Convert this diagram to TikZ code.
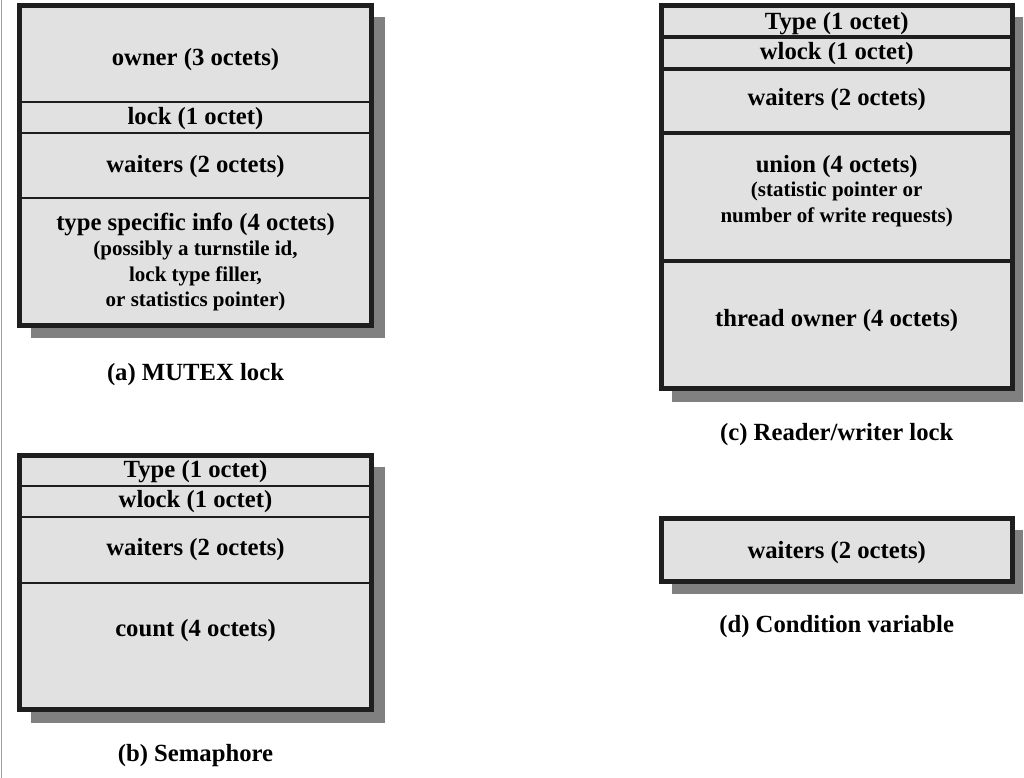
\documentclass[tikz,border=0pt]{standalone}
\usepackage{fontspec}
\setmainfont{Liberation Serif}
\definecolor{fieldgray}{RGB}{225,225,225}
\definecolor{shadowgray}{RGB}{128,128,128}
\definecolor{borderblack}{RGB}{30,30,30}
\definecolor{edgegray}{RGB}{160,160,160}
\tikzset{
  shadowbox/.style={fill=shadowgray, draw=none},
  fieldfill/.style={fill=fieldgray, draw=none},
  outerborder/.style={draw=borderblack, line width=5pt},
  thindiv/.style={draw=borderblack, line width=1.7pt},
  thickdiv/.style={draw=borderblack, line width=4pt},
  lbl/.style={anchor=base, inner sep=0pt, font=\fontsize{24.7}{28}\selectfont\bfseries},
  sublbl/.style={anchor=base, inner sep=0pt, font=\fontsize{21}{24}\selectfont\bfseries},
}
\begin{document}
\begin{tikzpicture}[x=1pt,y=-1pt]
\useasboundingbox (0,0) rectangle (1024,778);
\draw[edgegray, line width=1.5pt] (1.5,0) -- (1.5,778);

% ---------- (a) MUTEX lock ----------
\fill[shadowbox] (31,17) rectangle (385,338);
\fill[fieldfill] (19.5,5.5) rectangle (371.5,325.5);
\draw[thindiv] (19.5,102) -- (371.5,102);
\draw[thindiv] (19.5,132.7) -- (371.5,132.7);
\draw[thindiv] (19.5,197.7) -- (371.5,197.7);
\draw[outerborder] (19.5,5.5) rectangle (371.5,325.5);
\node[lbl] (aowner) at (195.5,66) {owner (3 octets)};
\node[lbl] (alock) at (195.5,124.3) {lock (1 octet)};
\node[lbl] (await) at (195.5,172) {waiters (2 octets)};
\node[lbl] (atype) at (195.5,230.7) {type specific info (4 octets)};
\node[sublbl] (apos) at (195.5,255) {(possibly a turnstile id,};
\node[sublbl] (afill) at (195.5,281.7) {lock type filler,};
\node[sublbl] (astat) at (195.5,306.7) {or statistics pointer)};
\node[lbl] (acap) at (195.5,380.7) {(a) MUTEX lock};

% ---------- (b) Semaphore ----------
\fill[shadowbox] (31,467) rectangle (385,723);
\fill[fieldfill] (19.5,455.2) rectangle (371.5,709.2);
\draw[thindiv] (19.5,485.7) -- (371.5,485.7);
\draw[thindiv] (19.5,516.7) -- (371.5,516.7);
\draw[thindiv] (19.5,582.7) -- (371.5,582.7);
\draw[outerborder] (19.5,455.2) rectangle (371.5,709.2);
\node[lbl] (btype) at (195.5,477.3) {Type (1 octet)};
\node[lbl] (bwlock) at (195.5,507.7) {wlock (1 octet)};
\node[lbl] (bwait) at (195.5,555) {waiters (2 octets)};
\node[lbl] (bcount) at (195.5,636) {count (4 octets)};
\node[lbl] (bcap) at (195.5,761.7) {(b) Semaphore};

% ---------- (c) Reader/writer lock ----------
\fill[shadowbox] (672,17) rectangle (1023,401.7);
\fill[fieldfill] (661,5.5) rectangle (1012.5,388.7);
\draw[thickdiv] (661,36.7) -- (1012.5,36.7);
\draw[thickdiv] (661,68.7) -- (1012.5,68.7);
\draw[thickdiv] (661,133.5) -- (1012.5,133.5);
\draw[thickdiv] (661,261.3) -- (1012.5,261.3);
\draw[outerborder] (661,5.5) rectangle (1012.5,388.7);
\node[lbl] (ctype) at (836.7,29.3) {Type (1 octet)};
\node[lbl] (cwlock) at (836.7,60) {wlock (1 octet)};
\node[lbl] (cwait) at (836.7,106) {waiters (2 octets)};
\node[lbl] (cunion) at (836.7,172.7) {union (4 octets)};
\node[sublbl] (cstat) at (836.7,196.7) {(statistic pointer or};
\node[sublbl] (cnum) at (836.7,222.7) {number of write requests)};
\node[lbl] (cowner) at (836.7,326.7) {thread owner (4 octets)};
\node[lbl] (ccap) at (836.7,440) {(c) Reader/writer lock};

% ---------- (d) Condition variable ----------
\fill[shadowbox] (672,530) rectangle (1023,594);
\fill[fieldfill] (661,518.5) rectangle (1012.5,581.5);
\draw[outerborder] (661,518.5) rectangle (1012.5,581.5);
\node[lbl] (dwait) at (836.7,558.3) {waiters (2 octets)};
\node[lbl] (dcap) at (836.7,632) {(d) Condition variable};
\end{tikzpicture}
\end{document}
